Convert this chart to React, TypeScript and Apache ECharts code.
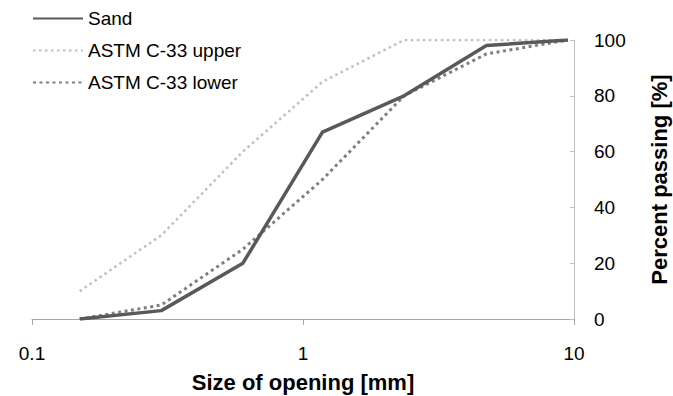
import React, { useEffect, useRef } from "react";
import * as echarts from "echarts";

const sieveSizes = [0.15, 0.3, 0.6, 1.18, 2.36, 4.75, 9.5];
const sand = [0, 3, 20, 67, 80, 98, 100];
const astmUpper = [10, 30, 60, 85, 100, 100, 100];
const astmLower = [0, 5, 25, 50, 80, 95, 100];
const seriesNames = ["Sand", "ASTM C-33 upper", "ASTM C-33 lower"];

const pairs = (ys: number[]) => sieveSizes.map((x, i) => [x, ys[i]]);

export default function App() {
  const ref = useRef<HTMLDivElement>(null);
  useEffect(() => {
    const chart = echarts.init(ref.current!, undefined, { renderer: "svg" });
    const font = "Liberation Sans, Arial, sans-serif";
    chart.setOption({
      animation: false,
      textStyle: { fontFamily: font },
      grid: { left: 32, right: 99, top: 40, bottom: 77, containLabel: false, outerBoundsMode: "none" },
      legend: {
        orient: "vertical",
        left: 27,
        top: 4,
        itemWidth: 50,
        itemHeight: 14,
        itemGap: 13,
        itemStyle: { opacity: 0 },
        textStyle: { fontSize: 19, color: "#000", fontFamily: font, lineHeight: 19 },
        data: seriesNames,
      },
      xAxis: {
        type: "log",
        logBase: 10,
        min: 0.1,
        max: 10,
        name: "Size of opening [mm]",
        nameLocation: "middle",
        nameGap: 52,
        nameTextStyle: { fontSize: 22, fontWeight: "bold", color: "#000", fontFamily: font },
        axisLine: { lineStyle: { color: "#a6a6a6", width: 1 } },
        axisTick: { show: true, length: 6, lineStyle: { color: "#a6a6a6" } },
        minorTick: { show: false },
        splitLine: { show: false },
        axisLabel: {
          fontSize: 19,
          color: "#000",
          margin: 25,
          fontFamily: font,
          formatter: (v: number) => (v < 1 ? v.toFixed(1) : String(Math.round(v))),
        },
      },
      yAxis: {
        type: "value",
        position: "right",
        min: 0,
        max: 100,
        interval: 20,
        name: "Percent passing [%]",
        nameLocation: "middle",
        nameRotate: 90,
        nameGap: 74,
        nameTextStyle: { fontSize: 22, fontWeight: "bold", color: "#000", fontFamily: font },
        axisLine: { show: true, lineStyle: { color: "#bfbfbf", width: 1 } },
        axisTick: { show: true, inside: true, length: 4, lineStyle: { color: "#bfbfbf" } },
        splitLine: { show: false },
        axisLabel: { fontSize: 19, color: "#000", margin: 20, fontFamily: font },
      },
      series: [
        {
          name: seriesNames[0],
          type: "line",
          data: pairs(sand),
          symbol: "none",
          z: 3,
          lineStyle: { color: "#595959", width: 3.5 },
          itemStyle: { color: "#595959" },
        },
        {
          name: seriesNames[1],
          type: "line",
          data: pairs(astmUpper),
          symbol: "none",
          z: 2,
          lineStyle: { color: "#bfbfbf", width: 2.5, type: [2.5, 3.5] },
          itemStyle: { color: "#bfbfbf" },
        },
        {
          name: seriesNames[2],
          type: "line",
          data: pairs(astmLower),
          symbol: "none",
          z: 2,
          lineStyle: { color: "#7f7f7f", width: 3, type: [3, 3.5] },
          itemStyle: { color: "#7f7f7f" },
        },
      ],
    });
    return () => chart.dispose();
  }, []);
  return (
    <div
      ref={ref}
      style={{ position: "fixed", left: 0, top: 0, width: 673, height: 396, background: "#fff" }}
    />
  );
}
